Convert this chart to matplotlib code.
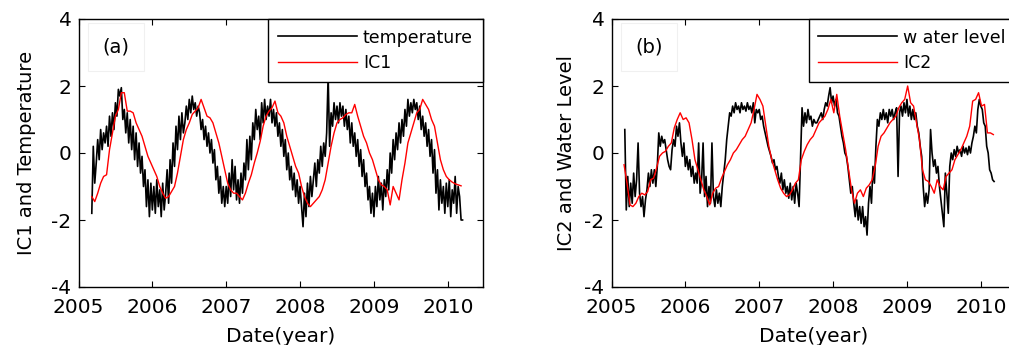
import numpy as np
import matplotlib
matplotlib.use('Agg')
import matplotlib.pyplot as plt

plt.rcParams['font.family'] = ['DejaVu Sans']
plt.rcParams['axes.unicode_minus'] = False

# ---- data (standardised values) ----
# black series sampled every 0.02 yr, red IC series every 0.04 yr
temp_start, temp_step = 2005.18, 0.02
temperature = [
    -1.8, 0.2, -0.9, -0.3, 0.4, -0.2, 0.7, 0.1, 0.6, 0.3,
    0.8, 0.2, 1.1, 0.5, 1.2, 0.7, 1.5, 1.1, 1.9, 1.7,
    1.95, 1.0, 1.3, 0.6, 1.2, 0.3, 1.0, 0.1, 0.8, -0.2,
    0.6, -0.4, 0.3, -0.6, -0.1, -1.0, -0.5, -1.6, -0.8, -1.9,
    -0.9, -1.7, -1.0, -1.8, -0.8, -1.6, -1.1, -1.9, -0.9, -1.7,
    -1.2, -0.5, -1.5, -0.2, -0.9, 0.3, -0.4, 0.8, 0.1, 1.1,
    0.4, 1.2, 0.6, 0.9, 1.4, 1.0, 1.6, 1.2, 1.7, 1.3,
    1.5, 1.1, 1.4, 1.2, 0.7, 1.0, 0.4, 0.8, 0.2, 0.6,
    0.0, 0.4, -0.3, 0.1, -0.8, -0.4, -1.2, -0.7, -1.5, -1.0,
    -1.6, -1.0, -1.5, -0.6, -1.3, -0.2, -1.1, -0.4, -1.4, -0.8,
    -1.5, -0.6, -1.2, -0.3, -0.8, 0.4, -0.5, 0.5, -0.2, 0.9,
    0.4, 1.3, 0.7, 1.1, 0.4, 1.5, 0.9, 1.6, 1.0, 1.4,
    1.1, 1.6, 0.9, 1.3, 0.8, 1.2, 0.5, 0.9, 0.2, 0.7,
    -0.1, 0.4, -0.5, 0.0, -0.8, -0.4, -1.1, -0.6, -1.3, -0.8,
    -1.5, -1.0, -1.6, -2.2, -1.2, -1.9, -0.9, -1.6, -0.7, -1.3,
    -0.8, -0.3, -1.0, -0.2, -0.6, 0.2, -0.4, 0.3, -0.1, 0.6,
    2.3, 0.2, 1.2, 0.8, 1.5, 1.0, 1.4, 0.9, 1.5, 1.1,
    1.4, 0.8, 1.3, 0.7, 1.1, 0.3, 0.9, 0.2, 0.6, -0.1,
    0.4, -0.4, 0.1, -0.7, -0.2, -1.0, -0.6, -1.4, -1.0, -1.8,
    -1.2, -1.9, -1.0, -1.6, -0.7, -1.4, -0.9, -1.7, -0.8, -1.3,
    -0.5, -1.1, 0.0, -0.6, 0.4, -0.2, 0.6, 0.1, 0.9, 0.3,
    1.0, 0.5, 1.3, 0.8, 1.6, 1.1, 1.5, 1.2, 1.6, 1.3,
    1.5, 1.0, 1.4, 0.7, 1.1, 0.5, 0.9, 0.2, 0.7, -0.1,
    0.4, -0.6, 0.1, -1.2, -0.5, -1.7, -0.8, -1.5, -1.0, -1.8,
    -0.9, -1.6, -0.8, -1.9, -1.1, -1.5, -0.7, -1.8, -1.0, -1.3,
    -2.0, -2.0,
]

ic1_start, ic1_step = 2005.18, 0.04
ic1 = [
    -1.3, -1.45, -1.2, -0.9, -0.7, -0.65, 0.1, 0.6, 1.1, 1.3,
    1.8, 1.8, 1.25, 1.25, 1.2, 0.9, 0.7, 0.5, 0.2, -0.1,
    -0.3, -0.5, -0.7, -1.0, -1.2, -1.35, -1.3, -1.15, -1.0, -0.6,
    -0.1, 0.4, 0.7, 0.9, 1.15, 1.25, 1.35, 1.6, 1.35, 1.1,
    1.05, 0.9, 0.6, 0.3, -0.1, -0.5, -0.9, -1.1, -1.2, -1.2,
    -1.3, -1.4, -1.2, -0.9, -0.65, -0.3, 0.0, 0.35, 0.8, 1.1,
    1.25, 1.35, 1.55, 1.2, 1.1, 0.9, 0.5, 0.2, -0.1, -0.4,
    -0.6, -1.0, -1.3, -1.5, -1.6, -1.5, -1.4, -1.3, -1.1, -0.8,
    -0.3, 0.2, 0.6, 0.9, 1.0, 1.05, 1.15, 1.2, 1.2, 1.45,
    1.1, 0.8, 0.5, 0.3, 0.0, -0.2, -0.5, -0.8, -0.95, -1.0,
    -1.1, -1.55, -1.0, -1.2, -1.4, -0.8, -0.3, 0.3, 0.6, 0.9,
    1.2, 1.3, 1.6, 1.45, 1.3, 1.0, 0.8, 0.3, -0.2, -0.5,
    -0.7, -0.8, -0.87, -0.92, -0.95, -0.98,
]

level_start, level_step = 2005.18, 0.02
water_level = [
    0.7, -1.7, -0.7, -1.6, -0.9, -1.5, -0.6, -1.3, -0.8, 0.3,
    -1.2, -1.6, -1.3, -1.9, -1.4, -1.1, -0.6, -1.0, -0.5, -0.9,
    -0.5, -1.0, -0.4, 0.6, 0.2, 0.5, 0.3, 0.4, 0.1, -0.2,
    -0.4, -0.5, 0.1, 0.4, 0.2, 0.8, 0.5, 0.9, 0.3, -0.1,
    0.3, -0.4, -0.1, -0.5, -0.2, -0.7, -0.4, -0.9, -0.6, -0.9,
    0.3, -1.2, -0.8, 0.3, -1.3, -0.7, -1.6, -1.0, -1.5, 0.3,
    -1.3, -1.6, -1.1, -1.5, -1.2, -1.6, -1.0, -0.6, -0.2, 0.4,
    0.8, 1.2, 1.1, 1.4, 1.2, 1.5, 1.3, 1.4, 1.2, 1.5,
    1.3, 1.4, 1.25, 1.5, 1.3, 1.4, 1.2, 1.5, 0.9, 1.3,
    1.2, 1.3, 1.0, 1.1, 0.8, 0.6, 0.4, 0.2, 0.05, -0.1,
    -0.3, -0.2, -0.5, -0.4, -0.7, -0.9, -0.6, -1.1, -0.8, -1.2,
    -1.0, -1.35, -0.9, -1.4, -1.0, -1.5, -0.9, -1.2, -1.6, -0.1,
    1.35, 0.8, 1.2, 0.9, 1.3, 1.0, 1.1, 0.8, 1.0, 0.9,
    0.9, 1.0, 1.1, 1.2, 1.0, 1.3, 1.5, 1.4, 1.7, 1.95,
    1.5, 1.7, 1.4, 1.6, 1.2, 1.1, 0.8, 0.5, 0.3, 0.0,
    -0.1, -0.4, -0.8, -1.2, -1.0, -1.5, -1.9, -1.4, -2.0, -1.6,
    -2.1, -1.6, -2.2, -1.9, -2.45, -1.5, -1.0, -1.5, -0.4, -0.9,
    0.2, 1.0, 0.8, 1.2, 1.0, 1.3, 1.0, 1.2, 0.9, 1.3,
    1.1, 1.3, 1.0, 1.2, 1.35, -0.7, 1.2, 1.4, 1.1, 1.5,
    1.2, 1.6, 1.1, 1.4, 1.0, 1.3, 1.0, 1.2, 0.8, 0.6,
    0.2, -0.1, -1.0, -1.6, -1.2, -1.5, -1.1, 0.7, 0.0, -0.4,
    -0.2, -0.6, -0.4, -1.0, -1.4, -1.8, -2.2, -0.6, -1.2, -1.8,
    -0.4, 0.0, -0.2, 0.1, -0.1, 0.2, 0.0, 0.1, -0.1, 0.2,
    0.0, 0.15, -0.05, 0.2, 0.0, 0.3, 0.5, 0.8, 0.6, 1.3,
    1.6, 1.4, 1.3, 0.9, 0.8, 0.2, 0.0, -0.5, -0.6, -0.8,
    -0.85,
]

ic2_start, ic2_step = 2005.17, 0.04
ic2 = [
    -0.35, -0.9, -1.55, -1.6, -1.5, -1.3, -1.2, -1.25, -1.15, -0.8,
    -0.75, -0.45, -0.1, 0.0, 0.05, 0.2, 0.3, 0.75, 1.0, 1.2,
    1.0, 1.05, 0.9, 0.4, -0.2, -0.5, -0.8, -1.1, -1.3, -1.55,
    -1.2, -1.05, -1.0, -0.75, -0.55, -0.35, -0.2, 0.0, 0.1, 0.25,
    0.4, 0.5, 0.7, 0.9, 1.3, 1.75, 1.6, 1.4, 0.8, 0.2,
    -0.2, -0.5, -0.8, -1.05, -1.2, -1.3, -1.25, -1.1, -0.9, -0.8,
    -0.2, 0.05, 0.25, 0.4, 0.5, 0.7, 0.9, 1.0, 1.1, 1.3,
    1.6, 1.2, 1.75, 1.1, 0.6, 0.1, -0.5, -1.1, -1.5, -1.2,
    -1.1, -1.3, -1.05, -0.95, -0.8, -0.4, 0.2, 0.5, 0.6, 0.75,
    0.9, 1.0, 1.1, 1.35, 1.5, 1.6, 2.0, 1.5, 1.4, 0.9,
    0.4, -0.5, -0.8, -0.85, -1.0, -1.2, -0.8, -1.0, -1.1, -0.7,
    -0.6, -0.5, -0.2, -0.05, 0.1, 0.3, 0.5, 0.8, 1.55, 1.6,
    1.8, 1.4, 1.45, 0.6, 0.6, 0.55,
]

year_ticks = [2005, 2006, 2007, 2008, 2009, 2010]
value_ticks = [-4, -2, 0, 2, 4]

panels = [
    ('(a)', temperature, temp_start, temp_step, 'temperature',
     ic1, ic1_start, ic1_step, 'IC1', 'IC1 and Temperature'),
    ('(b)', water_level, level_start, level_step, 'w ater level',
     ic2, ic2_start, ic2_step, 'IC2', 'IC2 and Water Level'),
]

fig = plt.figure(figsize=(10.09, 3.45), dpi=100)
lefts = [78.5 / 1009, 611.5 / 1009]
ylabel_x = [-0.105, -0.088]

for left, lx, (tag, obs, t0, dt, obs_name, ic, i0, idt, ic_name, ylab) in zip(lefts, ylabel_x, panels):
    ax = fig.add_axes([left, 58 / 345, 404 / 1009, 268 / 345])
    t_obs = t0 + dt * np.arange(len(obs))
    t_ic = i0 + idt * np.arange(len(ic))
    ax.plot(t_obs, obs, color='black', lw=1.2, label=obs_name)
    ax.plot(t_ic, ic, color='red', lw=1.0, label=ic_name)

    ax.set_xlim(2005, 2010.47)
    ax.set_ylim(-4, 4)
    ax.set_xticks(year_ticks)
    ax.set_yticks(value_ticks)
    ax.tick_params(direction='in', top=True, right=True, length=4, width=0.8,
                   labelsize=14.5)
    ax.tick_params(axis='x', pad=8)
    ax.tick_params(axis='y', pad=5)
    for sp in ax.spines.values():
        sp.set_linewidth(1.0)

    ax.set_xlabel('Date(year)', fontsize=14.5)
    ax.set_ylabel(ylab, fontsize=14)
    ax.xaxis.set_label_coords(0.5, -0.15)
    ax.yaxis.set_label_coords(lx, 0.5)

    leg = ax.legend(loc='upper right', fontsize=12.5, handlelength=4.55,
                    handletextpad=0.35, labelspacing=0.45, borderpad=0.55,
                    borderaxespad=0, fancybox=False, framealpha=1)
    leg.get_frame().set_edgecolor('black')
    leg.get_frame().set_linewidth(1.0)

    ax.text(0.093, 0.895, tag, transform=ax.transAxes, fontsize=14,
            ha='center', va='center',
            bbox=dict(boxstyle='square,pad=0.75', fc='white', ec='#f0f0f0', lw=0.8))

fig.savefig('out.png', dpi=100)
